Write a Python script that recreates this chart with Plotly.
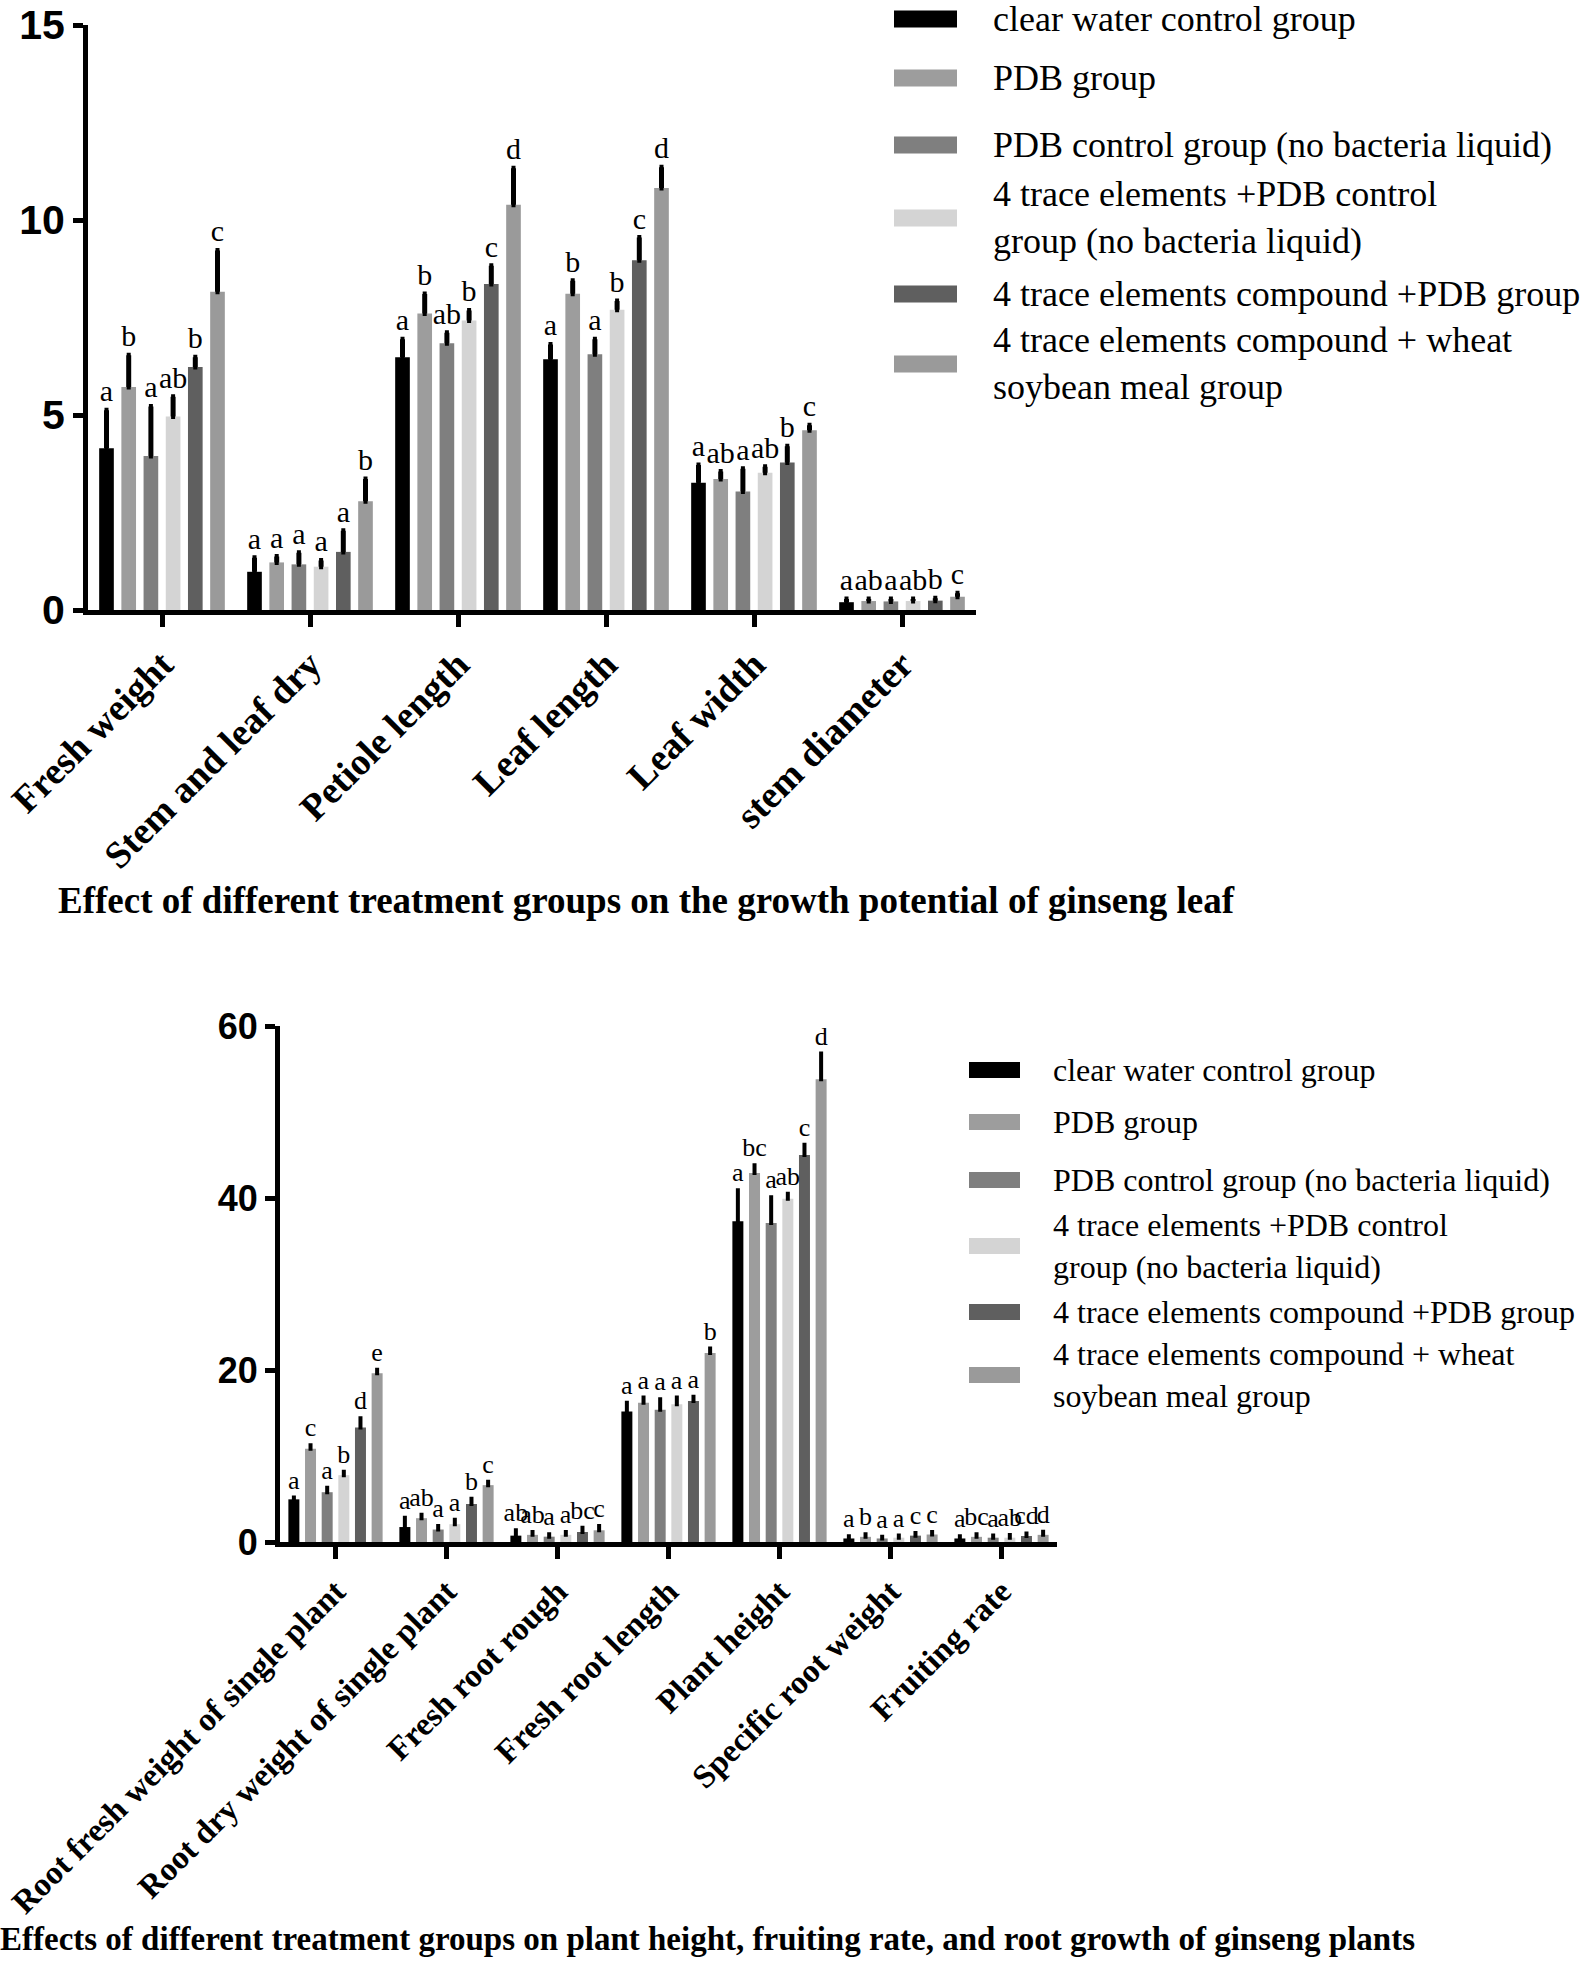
import plotly.graph_objects as go

W, H = 1595, 1961

# ---------------- data ----------------
group_names = [
    "clear water control group",
    "PDB group",
    "PDB control group (no bacteria liquid)",
    "4 trace elements +PDB control<br>group (no bacteria liquid)",
    "4 trace elements compound +PDB group",
    "4 trace elements compound + wheat<br>soybean meal group",
]
group_colors = ["#000000", "#9d9d9d", "#7f7f7f", "#d4d4d4", "#5f5f5f", "#9a9a9a"]

leaf_categories = ["Fresh weight", "Stem and leaf dry", "Petiole length",
                   "Leaf length", "Leaf width", "stem diameter"]
leaf_means = [
    [4.15, 0.98, 6.48, 6.43, 3.26, 0.20],
    [5.72, 1.22, 7.60, 8.11, 3.36, 0.23],
    [3.95, 1.17, 6.84, 6.56, 3.04, 0.22],
    [4.96, 1.11, 7.42, 7.70, 3.52, 0.23],
    [6.23, 1.49, 8.36, 8.97, 3.78, 0.24],
    [8.16, 2.79, 10.39, 10.82, 4.61, 0.34],
]
leaf_errors = [
    [0.97, 0.36, 0.46, 0.38, 0.46, 0.08],
    [0.81, 0.15, 0.50, 0.33, 0.19, 0.05],
    [1.27, 0.30, 0.27, 0.38, 0.58, 0.06],
    [0.51, 0.16, 0.26, 0.22, 0.15, 0.05],
    [0.25, 0.54, 0.47, 0.58, 0.42, 0.06],
    [1.06, 0.57, 0.94, 0.53, 0.13, 0.09],
]
leaf_letters = [
    ["a", "a", "a", "a", "a", "a"],
    ["b", "a", "b", "b", "ab", "ab"],
    ["a", "a", "ab", "a", "a", "a"],
    ["ab", "a", "b", "b", "ab", "ab"],
    ["b", "a", "c", "c", "b", "b"],
    ["c", "b", "d", "d", "c", "c"],
]

root_categories = ["Root fresh weight of single plant", "Root dry weight of single plant",
                   "Fresh root rough", "Fresh root length", "Plant height",
                   "Specific root weight", "Fruiting rate"]
root_means = [
    [4.96, 1.74, 0.74, 15.17, 37.3, 0.41, 0.41],
    [10.83, 2.77, 0.83, 16.20, 42.9, 0.60, 0.60],
    [5.79, 1.45, 0.62, 15.37, 37.1, 0.41, 0.50],
    [7.77, 2.07, 0.83, 16.03, 39.9, 0.50, 0.50],
    [13.30, 4.42, 1.16, 16.40, 45.0, 0.74, 0.70],
    [19.63, 6.61, 1.36, 21.98, 53.8, 0.87, 0.83],
]
root_errors = [
    [0.21, 1.07, 0.62, 1.03, 3.6, 0.25, 0.25],
    [0.41, 0.41, 0.33, 0.60, 0.9, 0.30, 0.30],
    [0.53, 0.41, 0.29, 1.23, 3.0, 0.20, 0.25],
    [0.41, 0.53, 0.33, 0.77, 0.6, 0.25, 0.30],
    [1.08, 0.62, 0.49, 0.50, 1.2, 0.30, 0.30],
    [0.41, 0.41, 0.50, 0.52, 3.0, 0.30, 0.35],
]
root_letters = [
    ["a", "a", "ab", "a", "a", "a", "a"],
    ["c", "ab", "ab", "a", "bc", "b", "bc"],
    ["a", "a", "a", "a", "a", "a", "a"],
    ["b", "a", "a", "a", "ab", "a", "ab"],
    ["d", "b", "bc", "a", "c", "c", "cd"],
    ["e", "c", "c", "b", "d", "c", "d"],
]

top_title = "Effect of different treatment groups on the growth potential of ginseng leaf"
bottom_title = ("Effects of different treatment groups on plant height, fruiting rate, "
                "and root growth of ginseng plants")

SERIF = "Liberation Serif, Times New Roman, serif"
SANS = "Liberation Sans, Arial, sans-serif"

fig = go.Figure()


def add_panel(cats, means, errs, letters, xaxis, yaxis, prefix, err_thick, letter_size):
    for i in range(len(means)):
        fig.add_trace(go.Bar(
            x=cats, y=means[i], xaxis=xaxis, yaxis=yaxis,
            offsetgroup=f"{prefix}{i}", name=group_names[i], showlegend=False,
            marker=dict(color=group_colors[i], line=dict(width=0)),
            error_y=dict(type="data", symmetric=False, array=errs[i],
                         arrayminus=[0] * len(errs[i]), color="black",
                         thickness=err_thick, width=2),
        ))
    for i in range(len(means)):
        tops = [m + e for m, e in zip(means[i], errs[i])]
        fig.add_trace(go.Bar(
            x=cats, y=tops, xaxis=xaxis, yaxis=yaxis,
            offsetgroup=f"{prefix}{i}", showlegend=False, hoverinfo="skip",
            marker=dict(color="rgba(0,0,0,0)", line=dict(width=0)),
            text=letters[i], textposition="outside", textangle=0,
            constraintext="none", cliponaxis=False,
            outsidetextfont=dict(family=SERIF, size=letter_size, color="black"),
        ))


add_panel(leaf_categories, leaf_means, leaf_errors, leaf_letters, "x", "y", "t", 5, 30)
add_panel(root_categories, root_means, root_errors, root_letters, "x2", "y2", "b", 4, 26)

# ---------------- layout ----------------
def px_x(v):
    return v / W


def px_y(v):
    return 1 - v / H


axis_common = dict(showline=True, linecolor="black", showgrid=False, zeroline=False,
                   ticks="outside", tickcolor="black", automargin=False)

fig.update_layout(
    template="none",
    width=W, height=H,
    margin=dict(l=0, r=0, t=0, b=0, autoexpand=False),
    paper_bgcolor="white", plot_bgcolor="white",
    barmode="group", bargap=0.1, bargroupgap=0.34,
    showlegend=False,
    xaxis=dict(domain=[px_x(88), px_x(976)], anchor="y", linewidth=5, tickwidth=5, ticklen=12,
               tickangle=-45, tickfont=dict(family=SERIF, size=38, color="black", weight="bold"),
               **axis_common),
    yaxis=dict(domain=[px_y(610), px_y(25)], anchor="x", range=[0, 15], dtick=5,
               linewidth=5, tickwidth=5, ticklen=10,
               tickfont=dict(family=SANS, size=41, color="black", weight="bold"), **axis_common),
    xaxis2=dict(domain=[px_x(280), px_x(1057)], anchor="y2", linewidth=5, tickwidth=5, ticklen=12,
                tickangle=-45, tickfont=dict(family=SERIF, size=33, color="black", weight="bold"),
                **axis_common),
    yaxis2=dict(domain=[px_y(1542), px_y(1026)], anchor="x2", range=[0, 60], dtick=20,
                linewidth=5, tickwidth=5, ticklen=10,
                tickfont=dict(family=SANS, size=36, color="black", weight="bold"), **axis_common),
)

shapes = []
annotations = []

# manual legends (swatch + text)
def add_legend(sw_x0, sw_x1, sw_h, text_x, rows, size):
    for i, yc in enumerate(rows):
        shapes.append(dict(type="rect", xref="paper", yref="paper",
                           x0=px_x(sw_x0), x1=px_x(sw_x1),
                           y0=px_y(yc + sw_h / 2), y1=px_y(yc - sw_h / 2),
                           fillcolor=group_colors[i], line=dict(width=0)))
        annotations.append(dict(xref="paper", yref="paper", x=px_x(text_x), y=px_y(yc),
                                xanchor="left", yanchor="middle", align="left",
                                text=group_names[i], showarrow=False,
                                font=dict(family=SERIF, size=size, color="black")))


add_legend(894, 957, 17, 991, [19, 78, 145, 218, 294, 364], 36)
add_legend(969, 1020, 16, 1051, [1070, 1122, 1180, 1246, 1312, 1375], 32)

annotations.append(dict(xref="paper", yref="paper", x=px_x(646), y=px_y(901),
                        xanchor="center", yanchor="middle", text=top_title, showarrow=False,
                        font=dict(family=SERIF, size=37, color="black", weight="bold")))
annotations.append(dict(xref="paper", yref="paper", x=px_x(707), y=px_y(1939),
                        xanchor="center", yanchor="middle", text=bottom_title, showarrow=False,
                        font=dict(family=SERIF, size=33, color="black", weight="bold")))

fig.update_layout(shapes=shapes, annotations=annotations)

fig.write_html("out.html", config={"displayModeBar": False},
               post_script="document.body.style.margin='0px';")
